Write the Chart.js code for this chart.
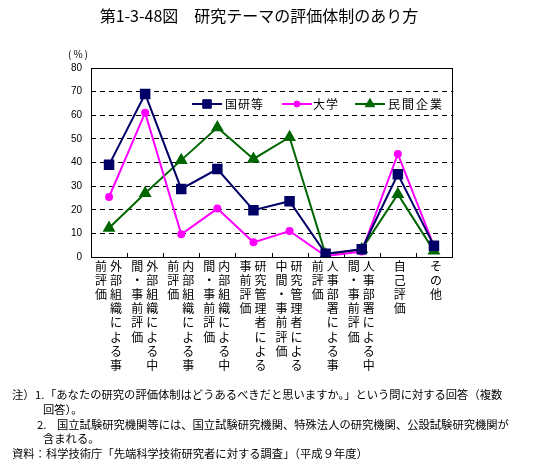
<!DOCTYPE html>
<html>
<head>
<meta charset="utf-8">
<script src="https://cdn.jsdelivr.net/npm/chart.js@4"></script>
<style>
  body { margin: 0; background: #fff; }
  #wrap { position: relative; width: 539px; height: 474px; overflow: hidden; font-family: "Noto Sans CJK JP", sans-serif; color: #000; }
  canvas { position: absolute; left: 0; top: 0; }
  .t { position: absolute; white-space: pre; line-height: 1; }
  .n { font-size: 11.3px; }
</style>
</head>
<body>
<div id="wrap">
  <canvas id="chart" width="539" height="474"></canvas>
  <div class="t" style="left:0;width:518px;top:7px;text-align:center;font-size:16px">第1-3-48図　研究テーマの評価体制のあり方</div>
  <div class="t" style="left:68px;top:49px;font-size:10px;letter-spacing:2px">(%)</div>
  <div class="t n" style="left:12px;top:389px">注）</div>
  <div class="t n" style="left:35px;top:389px">1.</div>
  <div class="t n" style="left:45px;top:389px">「あなたの研究の評価体制はどうあるべきだと思いますか。」という問に対する回答（複数</div>
  <div class="t n" style="left:43px;top:404px">回答）。</div>
  <div class="t n" style="left:37px;top:419px">2.</div>
  <div class="t n" style="left:57px;top:419px">国立試験研究機関等には、国立試験研究機関、特殊法人の研究機関、公設試験研究機関が</div>
  <div class="t n" style="left:43px;top:433px">含まれる。</div>
  <div class="t n" style="left:12px;top:448px">資料：科学技術庁「先端科学技術研究者に対する調査」（平成９年度）</div>
</div>
<script>
// categories (read top-to-bottom, right column first)
const categories = [
  '外部組織による事前評価',
  '外部組織による中間・事前評価',
  '内部組織による事前評価',
  '内部組織による中間・事前評価',
  '研究管理者による事前評価',
  '研究管理者による中間・事前評価',
  '人事部署による事前評価',
  '人事部署による中間・事前評価',
  '自己評価',
  'その他'
];
const seriesNames = ['国研等', '大学', '民間企業'];
const kokken  = [39.0, 69.0, 28.8, 37.2, 19.8, 23.6, 1.4, 3.3, 35.0, 4.8];
const daigaku = [25.4, 61.1, 9.6, 20.5, 6.2, 11.0, 0.4, 2.3, 43.6, 4.6];
const minkan  = [12.3, 27.0, 41.0, 54.8, 41.5, 50.7, 1.0, 3.3, 26.6, 2.6];
const yTicks = [0, 10, 20, 30, 40, 50, 60, 70, 80];

const ctx = document.getElementById('chart');

// plot frame + small inner tick marks between categories
const framePlugin = {
  id: 'frame',
  beforeDatasetsDraw(chart) {
    const { ctx, chartArea: a, scales: { x } } = chart;
    ctx.save();
    ctx.strokeStyle = '#000';
    ctx.lineWidth = 1;
    ctx.strokeRect(Math.round(a.left) + 0.5, Math.round(a.top) + 0.5, Math.round(a.width), Math.round(a.height));
    const step = x.getPixelForValue(1) - x.getPixelForValue(0);
    ctx.beginPath();
    for (let i = 1; i < categories.length; i++) {
      const px = Math.round(x.getPixelForValue(i) - step / 2) + 0.5;
      ctx.moveTo(px, a.bottom);
      ctx.lineTo(px, a.bottom - 4);
    }
    ctx.stroke();
    ctx.restore();
  }
};

// vertical Japanese category labels
const xLabelPlugin = {
  id: 'xlabels',
  afterDraw(chart) {
    const { ctx, chartArea: a, scales: { x } } = chart;
    ctx.save();
    ctx.font = '12px "Noto Sans CJK JP"';
    ctx.fillStyle = '#000';
    ctx.textAlign = 'center';
    ctx.textBaseline = 'middle';
    categories.forEach((label, i) => {
      const cx = x.getPixelForValue(i);
      const chars = [...label];
      let cols;
      if (chars.length > 8) {
        cols = [[cx + 7, chars.slice(0, 8)], [cx - 8, chars.slice(8)]];
      } else {
        cols = [[cx + 2, chars]];
      }
      cols.forEach(([colX, cs]) => {
        cs.forEach((ch, r) => ctx.fillText(ch, colX, a.bottom + 9.5 + r * 14.1));
      });
    });
    ctx.restore();
  }
};

// legend drawn inside the plot area
const legendPlugin = {
  id: 'innerLegend',
  afterDatasetsDraw(chart) {
    const { ctx, chartArea: a } = chart;
    const y = a.top + 36;
    const items = [
      { lineX: 101, textX: 134, step: 13 },
      { lineX: 191, textX: 222, step: 13 },
      { lineX: 264, textX: 297, step: 14 }
    ];
    ctx.save();
    chart.data.datasets.forEach((ds, i) => {
      const it = items[i];
      const x0 = a.left + it.lineX;
      ctx.strokeStyle = ds.borderColor;
      ctx.lineWidth = 2;
      ctx.beginPath();
      ctx.moveTo(x0, y);
      ctx.lineTo(x0 + 30, y);
      ctx.stroke();
      ctx.fillStyle = ds.pointBackgroundColor;
      ctx.lineWidth = 1;
      Chart.helpers.drawPoint(ctx, { pointStyle: ds.pointStyle, radius: ds.pointRadius, borderWidth: 1, rotation: 0 }, x0 + 15, y);
      ctx.fillStyle = '#000';
      ctx.font = '12px "Noto Sans CJK JP"';
      ctx.textBaseline = 'middle';
      ctx.textAlign = 'left';
      [...seriesNames[i]].forEach((ch, k) => ctx.fillText(ch, a.left + it.textX + k * it.step, y));
    });
    ctx.restore();
  }
};

new Chart(ctx, {
  type: 'line',
  data: {
    labels: categories,
    datasets: [
      {
        label: seriesNames[0], data: kokken,
        borderColor: '#000066', backgroundColor: '#000066',
        pointBackgroundColor: '#000066', pointBorderColor: '#000066',
        pointStyle: 'rect', pointRadius: 6, borderWidth: 2
      },
      {
        label: seriesNames[1], data: daigaku,
        borderColor: '#ff00ff', backgroundColor: '#ff00ff',
        pointBackgroundColor: '#ff00ff', pointBorderColor: '#ff00ff',
        pointStyle: 'circle', pointRadius: 3, borderWidth: 2
      },
      {
        label: seriesNames[2], data: minkan,
        borderColor: '#006600', backgroundColor: '#006600',
        pointBackgroundColor: '#006600', pointBorderColor: '#006600',
        pointStyle: 'triangle', pointRadius: 5.5, borderWidth: 2
      }
    ]
  },
  options: {
    responsive: false,
    devicePixelRatio: 1,
    animation: false,
    layout: { padding: { left: 0, right: 87, top: 68, bottom: 217 } },
    plugins: { legend: { display: false }, tooltip: { enabled: false } },
    elements: { line: { tension: 0 } },
    scales: {
      x: {
        display: false,
        offset: true
      },
      y: {
        min: 0,
        max: 80,
        afterBuildTicks: s => { s.ticks = yTicks.map(v => ({ value: v })); },
        afterFit: s => { s.width = 91; },
        ticks: { color: '#000', padding: 9, font: { family: 'Liberation Sans', size: 10 } },
        grid: {
          drawTicks: false,
          color: c => (c.tick && (c.tick.value === 0 || c.tick.value === 80)) ? 'rgba(0,0,0,0)' : '#000'
        },
        border: { display: false, dash: [5, 4] }
      }
    }
  },
  plugins: [framePlugin, xLabelPlugin, legendPlugin]
});
</script>
</body>
</html>
